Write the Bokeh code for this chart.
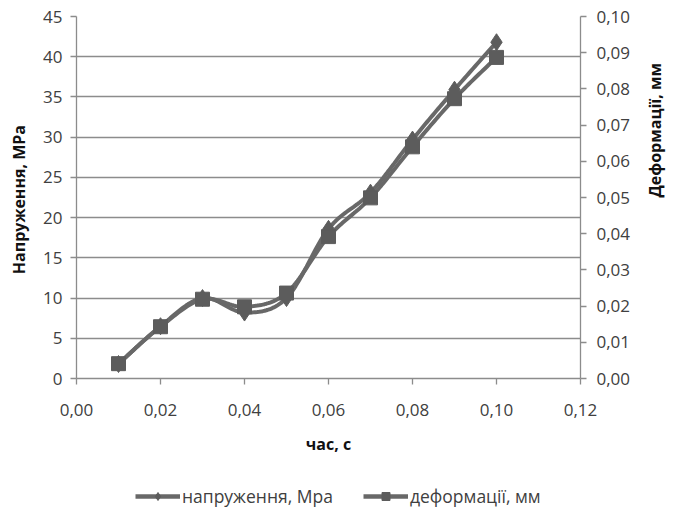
import math
import numpy as np
from bokeh.plotting import figure
from bokeh.layouts import column
from bokeh.models import (Range1d, LinearAxis, FixedTicker, Legend, LegendItem)
from bokeh.embed import file_html
from bokeh.resources import INLINE

# ---- data ----
time_s = [0.01, 0.02, 0.03, 0.04, 0.05, 0.06, 0.07, 0.08, 0.09, 0.10]
stress_mpa = [1.8, 6.5, 10.0, 8.2, 10.0, 18.6, 23.1, 29.7, 35.9, 41.8]
deform_mm = [0.0041, 0.0143, 0.0219, 0.0198, 0.0236, 0.0392, 0.0499, 0.0640, 0.0773, 0.0887]

x_ticks = [0.00, 0.02, 0.04, 0.06, 0.08, 0.10, 0.12]
x_tick_labels = ["0,00", "0,02", "0,04", "0,06", "0,08", "0,10", "0,12"]
left_ticks = [0, 5, 10, 15, 20, 25, 30, 35, 40, 45]
right_ticks = [0.00, 0.01, 0.02, 0.03, 0.04, 0.05, 0.06, 0.07, 0.08, 0.09, 0.10]
right_tick_labels = ["0,00", "0,01", "0,02", "0,03", "0,04", "0,05", "0,06", "0,07", "0,08", "0,09", "0,10"]

series_names = ["напруження, Мра", "деформації, мм"]


def smooth(xs, ys, n=24):
    """Catmull-Rom curve through the points (like Excel's smoothed line)."""
    P = [(xs[0], ys[0])] + list(zip(xs, ys)) + [(xs[-1], ys[-1])]
    ox, oy = [], []
    t = np.linspace(0, 1, n)
    for i in range(1, len(P) - 2):
        p0, p1, p2, p3 = [np.array(P[k]) for k in (i - 1, i, i + 1, i + 2)]
        for tt in t[:-1] if i < len(P) - 3 else t:
            pt = 0.5 * ((2 * p1) + (-p0 + p2) * tt + (2 * p0 - 5 * p1 + 4 * p2 - p3) * tt ** 2
                        + (-p0 + 3 * p1 - 3 * p2 + p3) * tt ** 3)
            ox.append(pt[0]); oy.append(pt[1])
    return ox, oy


FONT = "Open Sans"
GRID = "#8c8c8c"
LINE = "#686868"
MARK = "#5c5c5c"

p = figure(width=680, height=470, x_range=Range1d(0, 0.12), y_range=Range1d(0, 45),
           output_backend="svg", toolbar_location=None,
           min_border_left=76, min_border_right=97, min_border_top=16, min_border_bottom=92)
p.extra_y_ranges = {"def": Range1d(0, 0.10)}
p.outline_line_color = None
p.background_fill_color = "white"
p.border_fill_color = "white"

p.xgrid.visible = False
p.ygrid.grid_line_color = GRID
p.ygrid.grid_line_width = 1.3
p.ygrid.ticker = FixedTicker(ticks=left_ticks)

# x axis
xa = p.xaxis[0]
xa.ticker = FixedTicker(ticks=x_ticks)
xa.major_label_overrides = {t: l for t, l in zip(x_ticks, x_tick_labels)}
xa.axis_label = "час, с"

# left axis
ya = p.yaxis[0]
ya.ticker = FixedTicker(ticks=left_ticks)
ya.axis_label = "Напруження,  MPa"

# right axis
ra = LinearAxis(y_range_name="def", ticker=FixedTicker(ticks=right_ticks),
                axis_label="Деформації, мм")
ra.major_label_overrides = {t: l for t, l in zip(right_ticks, right_tick_labels)}
ra.axis_label_orientation = math.pi / 2
p.add_layout(ra, "right")

for ax in (xa, ya, ra):
    ax.axis_line_color = GRID
    ax.axis_line_width = 1.3
    ax.major_tick_line_color = GRID
    ax.major_tick_line_width = 1.3
    ax.major_tick_in = 0
    ax.major_tick_out = 6
    ax.minor_tick_line_color = None
    ax.major_label_text_font = FONT
    ax.major_label_text_font_size = "17px"
    ax.major_label_text_color = "#404040"
    ax.axis_label_text_font = FONT
    ax.axis_label_text_font_size = "16px"
    ax.axis_label_text_font_style = "bold"
    ax.axis_label_text_color = "#111111"

xa.major_label_standoff = 19
xa.axis_label_standoff = 14
ya.major_label_standoff = 8
ya.axis_label_standoff = 10
ra.major_label_standoff = 10
ra.axis_label_standoff = 22

# series
sx, sy = smooth(time_s, stress_mpa)
l1 = p.line(sx, sy, line_color=LINE, line_width=4)
m1 = p.scatter(time_s, stress_mpa, marker="diamond", size=17, fill_color=MARK, line_color=MARK)

dx, dy = smooth(time_s, deform_mm)
l2 = p.line(dx, dy, line_color=LINE, line_width=4, y_range_name="def")
m2 = p.scatter(time_s, deform_mm, marker="square", size=14, fill_color=MARK, line_color=MARK,
               y_range_name="def")

# legend strip below the chart (its frame is aligned with the chart's frame)
lg = figure(width=680, height=45, x_range=Range1d(0, 1), y_range=Range1d(0, 1),
            output_backend="svg", toolbar_location=None,
            min_border_left=0, min_border_right=0, min_border_top=0, min_border_bottom=0)
lg.axis.visible = False
lg.grid.visible = False
lg.outline_line_color = None
lg.border_fill_color = "white"
nan = [float("nan")]
ll1 = lg.line(nan, nan, line_color=LINE, line_width=4.5)
lm1 = lg.scatter(nan, nan, marker="diamond", size=15, fill_color=MARK, line_color=MARK)
ll2 = lg.line(nan, nan, line_color=LINE, line_width=4.5)
lm2 = lg.scatter(nan, nan, marker="square", size=13, fill_color=MARK, line_color=MARK)

legend = Legend(items=[LegendItem(label=series_names[0], renderers=[ll1, lm1]),
                       LegendItem(label=series_names[1], renderers=[ll2, lm2])],
                orientation="horizontal", location=(59, 7),
                glyph_width=45, glyph_height=20, label_standoff=2, spacing=30,
                padding=0, margin=0, border_line_color=None, background_fill_alpha=0,
                label_text_font=FONT, label_text_font_size="17.5px", label_text_color="#404040")
lg.add_layout(legend, "center")

open("out.html", "w").write(file_html(column(p, lg, spacing=0), INLINE))
